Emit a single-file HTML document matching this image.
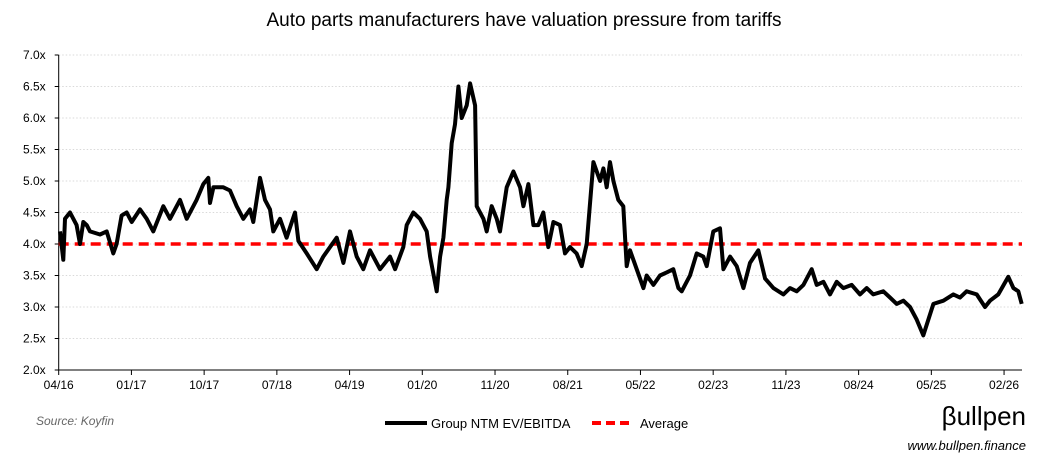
<!DOCTYPE html>
<html><head><meta charset="utf-8"><style>
body{margin:0;background:#fff;font-family:"Liberation Sans",sans-serif;}
svg{display:block}
</style></head><body>
<svg id="chart" width="1048" height="469">
<text x="524" y="26" text-anchor="middle" font-size="19" fill="#000">Auto parts manufacturers have valuation pressure from tariffs</text>
<g id="grid"></g><g id="yaxis"></g><g id="xaxis"></g><g id="series"></g>
<text x="36" y="425" font-size="12" font-style="italic" fill="#666">Source: Koyfin</text>
<g>
<line x1="385" y1="423" x2="427" y2="423" stroke="#000" stroke-width="4"/>
<text x="431" y="428" font-size="13">Group NTM EV/EBITDA</text>
<line x1="592" y1="423" x2="632" y2="423" stroke="#f00" stroke-width="4" stroke-dasharray="9,5"/>
<text x="640" y="428" font-size="13">Average</text>
</g>
<text x="1026" y="425" text-anchor="end" font-size="26" fill="#000">βullpen</text>
<text x="1026" y="450" text-anchor="end" font-size="13" font-style="italic">www.bullpen.finance</text>
</svg>
<script>
const months=[0.16,0.57,0.78,1.4,2.22,2.64,3.05,3.46,3.87,5.11,5.94,6.76,7.17,7.79,8.41,9.03,10.06,10.89,11.71,12.95,13.78,15.01,15.84,17.07,17.9,18.52,18.72,19.14,20.37,21.2,22.03,22.85,23.67,24.09,24.91,25.53,26.15,26.56,27.39,28.21,29.25,29.66,30.69,31.93,32.75,33.58,34.4,35.23,36.05,36.88,37.7,38.53,
39.77,41.0,41.63,42.65,43.07,43.89,44.72,45.54,45.96,46.78,47.2,47.61,48.02,48.23,48.64,49.05,49.47,49.88,50.5,50.91,51.53,51.73,52.56,52.97,53.59,54.21,54.62,55.45,56.27,57.1,57.51,58.13,58.75,59.36,59.98,60.6,61.22,62.04,62.66,63.28,64.1,64.73,65.35,66.17,67.0,67.41,67.82,68.23,68.65,69.26,69.88,70.3,70.71,71.53,72.36,72.77,73.6,74.42,75.25,76.07,76.69,
77.1,78.13,78.96,79.78,80.2,81.02,81.85,82.26,83.09,83.91,84.74,85.56,86.59,87.42,88.45,89.69,90.51,91.34,92.16,93.19,93.81,94.64,95.46,96.29,97.11,98.14,99.17,100.0,100.82,102.06,102.89,103.71,104.54,105.36,106.19,107.01,108.25,109.49,110.72,111.55,112.37,113.61,114.64,115.26,116.29,117.53,118.15,118.76,119.18];
const values=[4.2,3.75,4.4,4.5,4.3,4.0,4.35,4.3,4.2,4.15,4.2,3.85,4.0,4.45,4.5,4.35,4.55,4.4,4.2,4.6,4.4,4.7,4.4,4.7,4.95,5.05,4.65,4.9,4.9,4.85,4.6,4.4,4.55,4.35,5.05,4.7,4.55,4.2,4.4,4.1,4.5,4.05,3.85,3.6,3.8,3.95,4.1,3.7,4.2,3.8,3.6,3.9,
3.6,3.8,3.6,3.95,4.3,4.5,4.4,4.2,3.8,3.25,3.8,4.1,4.7,4.9,5.6,5.9,6.5,6.0,6.2,6.55,6.2,4.6,4.4,4.2,4.6,4.4,4.2,4.9,5.15,4.9,4.6,4.95,4.3,4.3,4.5,3.95,4.35,4.3,3.85,3.95,3.85,3.65,4.0,5.3,5.0,5.2,4.9,5.3,5.0,4.7,4.6,3.65,3.9,3.6,3.3,3.5,3.35,3.5,3.55,3.6,3.3,
3.25,3.5,3.85,3.8,3.65,4.2,4.25,3.6,3.8,3.65,3.3,3.7,3.9,3.45,3.3,3.2,3.3,3.25,3.35,3.6,3.35,3.4,3.2,3.4,3.3,3.35,3.2,3.3,3.2,3.25,3.15,3.05,3.1,3.0,2.8,2.55,3.05,3.1,3.2,3.15,3.25,3.2,3.0,3.1,3.2,3.48,3.3,3.25,3.05];
const average=[4.0];
const yTicks=[2.0,2.5,3.0,3.5,4.0,4.5,5.0,5.5,6.0,6.5,7.0];
const xTickLabels=["04/16","01/17","10/17","07/18","04/19","01/20","11/20","08/21","05/22","02/23","11/23","08/24","05/25","02/26"];
const xTickMonths=[0,9,18,27,36,45,54,63,72,81,90,99,108,117];

const X0=58.7,PXM=8.08,XEND=1022,Y0=370,PXU=63;
const xs=m=>X0+m*PXM, ys=v=>Y0-(v-2)*PXU;
const NS="http://www.w3.org/2000/svg";
function mk(tag,attrs,parent,txt){const e=document.createElementNS(NS,tag);for(const k in attrs)e.setAttribute(k,attrs[k]);if(txt!=null)e.textContent=txt;parent.appendChild(e);return e;}
const grid=document.getElementById('grid'),ya=document.getElementById('yaxis'),xa=document.getElementById('xaxis'),ser=document.getElementById('series');
yTicks.forEach(v=>{
  if(v>2){const g=mk('line',{x1:X0,x2:XEND,y1:ys(v),y2:ys(v),stroke:'#d9d9d9','stroke-width':1,'stroke-dasharray':'1.5,2'},grid);
  
  }
  const t=mk('line',{x1:X0-4,x2:X0,y1:ys(v),y2:ys(v),stroke:'#000'},ya);
  
  
  const l=mk('text',{x:X0-13,y:ys(v)+4,'text-anchor':'end','font-size':12},ya,v.toFixed(1)+'x');
  
  
});
const yl=mk('line',{x1:X0,x2:X0,y1:ys(7),y2:Y0,stroke:'#000'},ya);


const xl=mk('line',{x1:X0,x2:XEND,y1:Y0,y2:Y0,stroke:'#000'},xa);


xTickLabels.forEach((s,i)=>{
  const x=xs(xTickMonths[i]);
  const t=mk('line',{x1:x,x2:x,y1:Y0,y2:Y0+5,stroke:'#000'},xa);
  
  
  const l=mk('text',{x:x,y:Y0+19,'text-anchor':'middle','font-size':12},xa,s);
  
  
});
const avg=mk('line',{x1:X0,x2:XEND,y1:ys(average[0]),y2:ys(average[0]),stroke:'#f00','stroke-width':3.5,'stroke-dasharray':'10,6'},ser);


const pts=months.map((m,i)=>xs(m).toFixed(1)+','+ys(values[i]).toFixed(1)).join(' ');
const pl=mk('polyline',{points:pts,fill:'none',stroke:'#000','stroke-width':4,'stroke-linejoin':'round'},ser);


</script>
</body></html>
